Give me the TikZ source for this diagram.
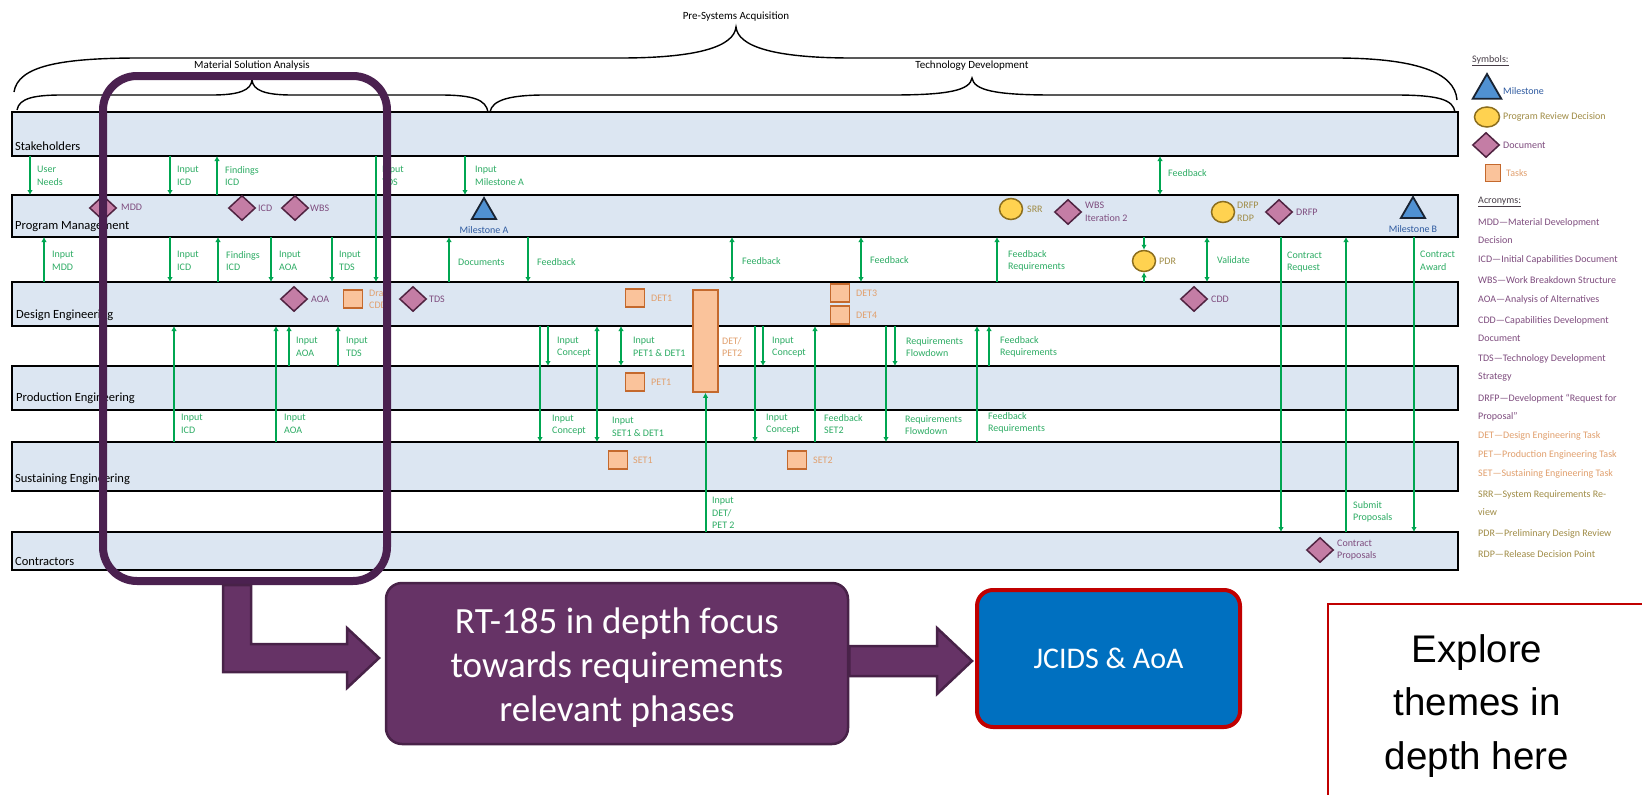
\documentclass[tikz,border=0pt]{standalone}
\usepackage{fontspec}
\setmainfont{Carlito}
\newfontfamily\arialfont{Liberation Sans}
\usetikzlibrary{arrows.meta,shapes.geometric}

\definecolor{lanefill}{RGB}{220,230,242}
\definecolor{flowgreen}{RGB}{0,166,81}
\definecolor{flowtext}{RGB}{45,172,100}
\definecolor{docfill}{RGB}{196,125,165}
\definecolor{docedge}{RGB}{80,35,65}
\definecolor{doctext}{RGB}{126,76,126}
\definecolor{revfill}{RGB}{255,210,80}
\definecolor{revedge}{RGB}{140,110,30}
\definecolor{revtext}{RGB}{160,140,70}
\definecolor{msfill}{RGB}{80,145,210}
\definecolor{msedge}{RGB}{25,35,50}
\definecolor{mstext}{RGB}{46,90,160}
\definecolor{taskfill}{RGB}{250,195,155}
\definecolor{taskedge}{RGB}{196,105,45}
\definecolor{tasktext}{RGB}{225,160,110}
\definecolor{focuspurple}{RGB}{75,33,80}
\definecolor{boxpurple}{RGB}{102,51,102}
\definecolor{boxpurpleedge}{RGB}{72,34,72}
\definecolor{jcidsblue}{RGB}{0,112,192}
\definecolor{alertred}{RGB}{192,0,0}
\definecolor{legendhead}{RGB}{70,60,70}

% vertical flows between swim lanes: x position, upper lane, lower lane
\newcommand\fdown[3]{\draw[flow] (#1,0 |- #2.south) -- (#1,0 |- #3.north);}
\newcommand\fup[3]{\draw[flow] (#1,0 |- #3.north) -- (#1,0 |- #2.south);}
\newcommand\fboth[3]{\draw[flowtwo] (#1,0 |- #2.south) -- (#1,0 |- #3.north);}

\tikzset{
  lane/.style={draw=black, line width=2, fill=lanefill, anchor=north west,
    minimum width=1446, inner sep=0, outer sep=0},
  lanename/.style={anchor=west, inner sep=0, font=\fontsize{12.5}{14}\selectfont, text=black},
  flowlbl/.style={anchor=west, inner sep=0, align=left, text=flowtext,
    font=\fontsize{10}{12.5}\selectfont},
  flow/.style={draw=flowgreen, line width=2, -{Latex[length=5,width=5.5]}},
  flowtwo/.style={draw=flowgreen, line width=2, {Latex[length=5,width=5.5]}-{Latex[length=5,width=5.5]}},
  doc/.style={diamond, draw=docedge, fill=docfill, line width=1.5,
    minimum width=27, minimum height=25, inner sep=0},
  review/.style={ellipse, draw=revedge, fill=revfill, line width=1.5,
    minimum width=23, minimum height=21, inner sep=0},
  milestone/.style={regular polygon, regular polygon sides=3, draw=msedge, fill=msfill,
    line width=1.8, minimum size=28, inner sep=0},
  task/.style={rectangle, draw=taskedge, fill=taskfill, line width=1.5,
    minimum width=19, minimum height=18, inner sep=0},
  doclbl/.style={flowlbl, text=doctext},
  revlbl/.style={flowlbl, text=revtext},
  tasklbl/.style={flowlbl, text=tasktext},
  mslbl/.style={anchor=center, inner sep=0, text=mstext, font=\fontsize{10}{12}\selectfont},
  phase/.style={inner sep=0, font=\fontsize{11}{13}\selectfont},
  brace/.style={draw=black, line width=1.4},
  legtext/.style={anchor=west, inner sep=0, align=left, font=\fontsize{10}{18}\selectfont},
  fatarrow/.style={fill=boxpurple, draw=boxpurpleedge, line width=2.5, line join=miter},
}

\begin{document}
\begin{tikzpicture}[x=1pt, y=-1pt]
\useasboundingbox (0,0) rectangle (1642,795);
\clip (0,0) rectangle (1642,795);
\fill[white] (0,0) rectangle (1642,795);

% phase braces
\node[phase] (psa) at (736,17) {Pre-Systems Acquisition};
\node[phase] (msa) at (252,66) {Material Solution Analysis};
\node[phase] (tdp) at (972,66) {Technology Development};
\draw[brace] (14,92) .. controls (18,66) and (60,58) .. (140,58) -- (620,58)
  .. controls (700,58) and (734,46) .. (736,27)
  .. controls (738,46) and (772,58) .. (852,58) -- (1335,58)
  .. controls (1415,58) and (1455,72) .. (1457,100);
\draw[brace] (17,110) .. controls (19,98) and (35,95) .. (62,95) -- (212,95)
  .. controls (240,95) and (251,90) .. (252,80)
  .. controls (253,90) and (264,95) .. (292,95) -- (440,95)
  .. controls (474,95) and (486,100) .. (488,112);
\draw[brace] (490,112) .. controls (492,100) and (510,95) .. (545,95) -- (892,95)
  .. controls (950,95) and (970,90) .. (972,78)
  .. controls (974,90) and (994,95) .. (1052,95) -- (1395,95)
  .. controls (1440,95) and (1453,100) .. (1455,112);

% swim lanes
\node[lane, minimum height=44] (sh) at (12,112) {};
\node[lane, minimum height=42] (pm) at (12,195) {};
\node[lane, minimum height=44] (de) at (12,282) {};
\node[lane, minimum height=44] (pe) at (12,366) {};
\node[lane, minimum height=49] (se) at (12,442) {};
\node[lane, minimum height=38] (ct) at (12,532) {};
\node[lanename] (shname) at (15,146) {Stakeholders};
\node[lanename] (pmname) at (15,227) {Program Management};
\node[lanename] (dename) at (16,315) {Design Engineering};
\node[lanename] (pename) at (16,398) {Production Engineering};
\node[lanename] (sename) at (15,479) {Sustaining Engineering};
\node[lanename] (ctname) at (15,561) {Contractors};

% flows: stakeholders / program management
\fdown{30}{sh}{pm}
\fdown{170}{sh}{pm}
\fup{217}{sh}{pm}
\fdown{376}{sh}{de}
\fdown{465}{sh}{pm}
\fboth{1160}{sh}{pm}
\node[flowlbl] (f1) at (37,176) {User\\Needs};
\node[flowlbl] (f2) at (177,176) {Input\\ICD};
\node[flowlbl] (f3) at (225,176) {Findings\\ICD};
\node[flowlbl] (f4) at (382,176) {Input\\TDS};
\node[flowlbl] (f5) at (475,176) {Input\\Milestone A};
\node[flowlbl] (f6) at (1168,173) {Feedback};

% flows: program management / design engineering
\fup{44}{pm}{de}
\fdown{170}{pm}{de}
\fup{218}{pm}{de}
\fdown{271}{pm}{de}
\fdown{332}{pm}{de}
\fup{449}{pm}{de}
\fdown{528}{pm}{de}
\fboth{732}{pm}{de}
\fboth{861}{pm}{de}
\fup{997}{pm}{de}
\fboth{1207}{pm}{de}
\fdown{1281}{pm}{ct}
\fup{1346}{pm}{ct}
\fdown{1414}{pm}{ct}
\node[flowlbl] (g1) at (52,261) {Input\\MDD};
\node[flowlbl] (g2) at (177,261) {Input\\ICD};
\node[flowlbl] (g3) at (226,261) {Findings\\ICD};
\node[flowlbl] (g4) at (279,261) {Input\\AOA};
\node[flowlbl] (g5) at (339,261) {Input\\TDS};
\node[flowlbl] (g6) at (458,262) {Documents};
\node[flowlbl] (g7) at (537,262) {Feedback};
\node[flowlbl] (g8) at (742,261) {Feedback};
\node[flowlbl] (g9) at (870,260) {Feedback};
\node[flowlbl] (g10) at (1008,261) {Feedback\\Requirements};
\node[flowlbl] (g11) at (1217,260) {Validate};
\node[flowlbl] (g12) at (1287,262) {Contract\\Request};
\node[flowlbl] (g13) at (1420,261) {Contract\\Award};
\node[flowlbl] (g14) at (1353,512) {Submit\\Proposals};

% flows: design / production / sustaining engineering
\fup{174}{de}{se}
\fup{276}{de}{se}
\fup{289}{de}{pe}
\fup{338}{de}{pe}
\fdown{540}{de}{se}
\fdown{548}{de}{pe}
\fboth{597}{de}{se}
\fboth{621}{de}{pe}
\fdown{755}{de}{se}
\fdown{763}{de}{pe}
\fup{815}{de}{se}
\fdown{886}{de}{se}
\fdown{895}{de}{pe}
\fup{977}{de}{se}
\fup{989}{de}{pe}
\node[flowlbl] (h1) at (296,347) {Input\\AOA};
\node[flowlbl] (h2) at (346,347) {Input\\TDS};
\node[flowlbl] (h3) at (557,347) {Input\\Concept};
\node[flowlbl] (h4) at (633,347) {Input\\PET1 \& DET1};
\node[flowlbl] (h5) at (772,347) {Input\\Concept};
\node[flowlbl] (h6) at (906,347) {Requirements\\Flowdown};
\node[flowlbl] (h7) at (1000,347) {Feedback\\Requirements};
\node[flowlbl] (k1) at (181,424) {Input\\ICD};
\node[flowlbl] (k2) at (284,424) {Input\\AOA};
\node[flowlbl] (k3) at (552,425) {Input\\Concept};
\node[flowlbl] (k4) at (612,427) {Input\\SET1 \& DET1};
\node[flowlbl] (k5) at (766,424) {Input\\Concept};
\node[flowlbl] (k6) at (824,424) {Feedback\\SET2};
\node[flowlbl] (k7) at (905,425) {Requirements\\Flowdown};
\node[flowlbl] (k8) at (988,423) {Feedback\\Requirements};

% program management items
\node[doc] (mdd) at (103,208) {};
\node[doclbl] (mddl) at (121,207) {MDD};
\node[doc] (icd) at (242,208) {};
\node[doclbl] (icdl) at (258,208) {ICD};
\node[doc] (wbs) at (295,208) {};
\node[doclbl] (wbsl) at (310,208) {WBS};
\node[milestone] (msa) at (484,212) {};
\node[mslbl] (msal) at (484,230) {Milestone A};
\node[review] (srr) at (1011,209) {};
\node[revlbl] (srrl) at (1027,209) {SRR};
\node[doc] (wbs2) at (1068,212) {};
\node[doclbl] (wbs2l) at (1085,212) {WBS\\Iteration 2};
\node[review] (rdp) at (1223,212) {};
\node[revlbl] (rdpl) at (1237,212) {DRFP\\RDP};
\node[doc] (drfp) at (1279,212) {};
\node[doclbl] (drfpl) at (1296,212) {DRFP};
\node[milestone] (msb) at (1413,211) {};
\node[mslbl] (msbl) at (1413,229) {Milestone B};

% preliminary design review between the lanes
\node[review] (pdr) at (1144,261) {};
\node[revlbl] (pdrl) at (1159,261) {PDR};
\draw[flow] (pm.south -| pdr) -- (pdr.north);
\draw[flow] (de.north -| pdr) -- (pdr.south);

% design engineering items
\node[doc] (aoa) at (294,299) {};
\node[doclbl] (aoal) at (311,299) {AOA};
\node[task] (dcdd) at (353,299) {};
\node[tasklbl] (dcddl) at (369,299) {Draft\\CDD};
\node[doc] (tds) at (413,299) {};
\node[doclbl] (tdsl) at (429,299) {TDS};
\node[task] (det1) at (635,298) {};
\node[tasklbl] (det1l) at (651,298) {DET1};
\node[task] (det3) at (840,293) {};
\node[tasklbl] (det3l) at (856,293) {DET3};
\node[task] (det4) at (840,315) {};
\node[tasklbl] (det4l) at (856,315) {DET4};
\node[doc] (cdd) at (1194,299) {};
\node[doclbl] (cddl) at (1211,299) {CDD};
\node[task, minimum width=25, minimum height=102] (detpet) at (705.5,341) {};
\node[tasklbl] (detpetl) at (722,347) {DET/\\PET2};
\draw[flow] (ct.north -| detpet.south) -- (detpet.south);
\node[flowlbl] (detpetin) at (712,513) {Input\\DET/\\PET 2};

% production and sustaining engineering tasks
\node[task] (pet1) at (635,382) {};
\node[tasklbl] (pet1l) at (651,382) {PET1};
\node[task] (set1) at (618,460) {};
\node[tasklbl] (set1l) at (633,460) {SET1};
\node[task] (set2) at (797,460) {};
\node[tasklbl] (set2l) at (813,460) {SET2};

% contractors
\node[doc] (cprop) at (1320,550) {};
\node[doclbl] (cpropl) at (1337,550) {Contract\\Proposals};

% focus frame and follow-on steps
\node[draw=focuspurple, line width=8, rounded corners=34, minimum width=284,
  minimum height=505, inner sep=0] (focus) at (245,328.5) {};
\node[draw=boxpurpleedge, fill=boxpurple, line width=2.5, rounded corners=16,
  minimum width=462, minimum height=161, inner sep=0] (rt) at (617,663.5) {};
\node[text=white, align=center, inner sep=0, font=\fontsize{37}{44}\selectfont]
  (rttext) at (617,668) {RT-185 in depth focus\\towards requirements\\relevant phases};
\node[draw=alertred, fill=jcidsblue, line width=4, rounded corners=16,
  minimum width=263, minimum height=137, inner sep=0, text=white,
  font=\fontsize{30}{36}\selectfont] (jc) at (1108.5,658.5) {JCIDS \& AoA};
\draw[fatarrow] (223,585) -- (223,672) -- (347,672) -- (347,688) -- (379,658)
  -- (347,628) -- (347,644) -- (251,644) -- (251,585) -- cycle;
\draw[fatarrow] (rt.east |- 0,646) -- (937,646) -- (937,628) -- (972,661)
  -- (937,694) -- (937,676) -- (rt.east |- 0,676) -- cycle;

% side note
\draw[alertred, line width=2] (1328,604) rectangle (1680,840);
\node[align=center, inner sep=0, font=\arialfont\fontsize{38.5}{53.5}\selectfont]
  (explore) at (1477,706) {Explore\\themes in\\depth here};

% legend
\node[legtext, text=legendhead] (symh) at (1472,61) {\underline{Symbols:}};
\node[milestone, minimum size=33] (lgms) at (1487,90.5) {};
\node[legtext, text=mstext] (lgmsl) at (1503,91) {Milestone};
\node[review, minimum width=25, minimum height=20] (lgrev) at (1487,117) {};
\node[legtext, text=revtext] (lgrevl) at (1503,117) {Program Review Decision};
\node[doc] (lgdoc) at (1486,145) {};
\node[legtext, text=doctext] (lgdocl) at (1503,145) {Document};
\node[task, minimum width=15, minimum height=17] (lgtask) at (1493,173) {};
\node[legtext, text=tasktext] (lgtaskl) at (1506,173) {Tasks};
\node[legtext, text=legendhead] (acrh) at (1478,202) {\underline{Acronyms:}};
\node[legtext, text=doctext] (a1) at (1478,231.5) {MDD—Material Development\\Decision};
\node[legtext, text=doctext] (a2) at (1478,260) {ICD—Initial Capabilities Document};
\node[legtext, text=doctext] (a3) at (1478,280) {WBS—Work Breakdown Structure};
\node[legtext, text=doctext] (a4) at (1478,300) {AOA—Analysis of Alternatives};
\node[legtext, text=doctext] (a5) at (1478,329) {CDD—Capabilities Development\\Document};
\node[legtext, text=doctext] (a6) at (1478,367.5) {TDS—Technology Development\\Strategy};
\node[legtext, text=doctext] (a7) at (1478,407.5) {DRFP—Development “Request for\\Proposal”};
\node[legtext, text=tasktext] (a8) at (1478,436) {DET—Design Engineering Task};
\node[legtext, text=tasktext] (a9) at (1478,455) {PET—Production Engineering Task};
\node[legtext, text=tasktext] (a10) at (1478,474) {SET—Sustaining Engineering Task};
\node[legtext, text=revtext] (a11) at (1478,503) {SRR—System Requirements Re-\\view};
\node[legtext, text=revtext] (a12) at (1478,534) {PDR—Preliminary Design Review};
\node[legtext, text=revtext] (a13) at (1478,554) {RDP—Release Decision Point};
\end{tikzpicture}
\end{document}
